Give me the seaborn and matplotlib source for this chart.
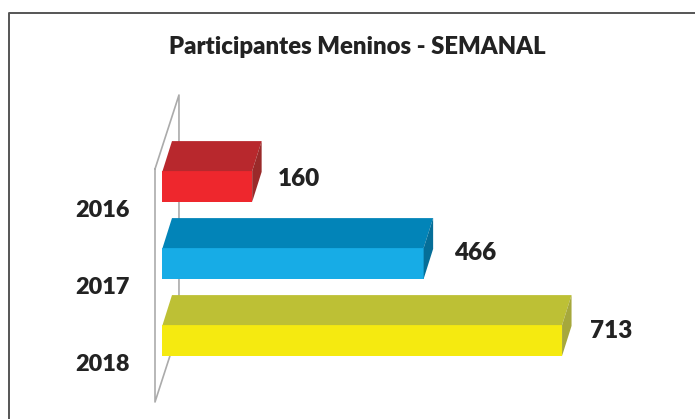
import matplotlib
matplotlib.use('Agg')
import matplotlib.pyplot as plt
import seaborn as sns
import pandas as pd
from matplotlib.lines import Line2D
from matplotlib.patches import Polygon
from matplotlib.transforms import ScaledTranslation

# Datos
anos = ['2016', '2017', '2018']
participantes = [160, 466, 713]
cores_frente = ['#EE272D', '#17ACE6', '#F5EA10']
cores_topo = ['#B8282D', '#0284B8', '#BDC035']
cores_lado = ['#9A2A2A', '#056E98', '#A6A83C']

df = pd.DataFrame({'ano': anos, 'participantes': participantes})

W, H = 695, 419
sns.set_theme(style='white')
plt.rcParams['font.family'] = ['Lato', 'DejaVu Sans']

fig = plt.figure(figsize=(W / 100, H / 100), dpi=100, facecolor='white')
# eje en pixeles: izquierda 155, derecha 620, arriba 169, abajo 402
ax = fig.add_axes([155 / W, 1 - 402 / H, (620 - 155) / W, (402 - 169) / H])

sns.barplot(data=df, y='ano', x='participantes', hue='ano', palette=cores_frente,
            order=anos, width=0.4, dodge=False, legend=False, saturation=1, ax=ax, zorder=3,
            linewidth=0, edgecolor='none')

px_x = 0.561  # pixeles por unidad
px_y = 77.0   # pixeles entre categorias
ax.set_xlim(-7.5 / px_x, (620 - 162) / px_x)
ax.set_ylim((402 - 186.5) / px_y, (169 - 186.5) / px_y)
ax.patch.set_alpha(0)
sns.despine(ax=ax, left=True, bottom=True)
ax.set_xlabel('')
ax.set_ylabel('')
ax.set_xticks([])

# Caras 3D a partir de cada barra
dx, dy = 9.5 / px_x, 30 / px_y
for bar, topo, lado in zip(list(ax.patches), cores_topo, cores_lado):
    x1 = bar.get_width()
    y0, y1 = bar.get_y(), bar.get_y() + bar.get_height()
    ax.add_patch(Polygon([(0, y0), (x1, y0), (x1 + dx, y0 - dy), (dx, y0 - dy)],
                         facecolor=topo, edgecolor='none', zorder=3, clip_on=False))
    ax.add_patch(Polygon([(x1, y0), (x1 + dx, y0 - dy), (x1 + dx, y1 - dy), (x1, y1)],
                         facecolor=lado, edgecolor='none', zorder=3, clip_on=False))

# Pared del grafico
x_a, x_b = ax.get_xlim()[0], ax.get_xlim()[0] + 24 / px_x
y_b, y_t = ax.get_ylim()
wall_dy = 74 / px_y
wall_x = [x_a, x_b, x_b, x_a, x_a]
wall_y = [y_t, y_t - wall_dy, y_b - wall_dy, y_b, y_t]
ax.plot(wall_x, wall_y, color='#ABABAB', lw=1.2, clip_on=False, zorder=1)

# Etiquetas del eje, desplazadas hacia abajo
ax.tick_params(axis='y', length=0, pad=18, labelsize=16.8)
desplazar = ScaledTranslation(0, -22 / 100, fig.dpi_scale_trans)
for lab in ax.get_yticklabels():
    lab.set_transform(lab.get_transform() + desplazar)
    lab.set_fontweight('heavy')
    lab.set_color('#222222')

# Valores
offsets = [(26, 8), (30, 11), (28, 10)]
for bar, val, (ox, oy) in zip(ax.patches, participantes, offsets):
    ax.annotate(str(val), (val, bar.get_y() + bar.get_height() / 2), xytext=(ox * 0.72, oy * 0.72),
                textcoords='offset points', ha='left', va='center', fontsize=17.5,
                fontweight='heavy', color='#222222')

fig.text(357.5 / W, 1 - 47 / H, 'Participantes Meninos - SEMANAL', ha='center', va='center',
         fontsize=17.2, fontweight='heavy', color='#222222')

# Marco exterior: izquierda y arriba, el resto queda fuera de la imagen
marco_x = [8.5 / W, 8.5 / W, 1]
marco_y = [0, 1 - 13 / H, 1 - 13 / H]
fig.add_artist(Line2D(marco_x, marco_y, color='#555555', lw=1.4))

fig.savefig('out.png', dpi=100)
